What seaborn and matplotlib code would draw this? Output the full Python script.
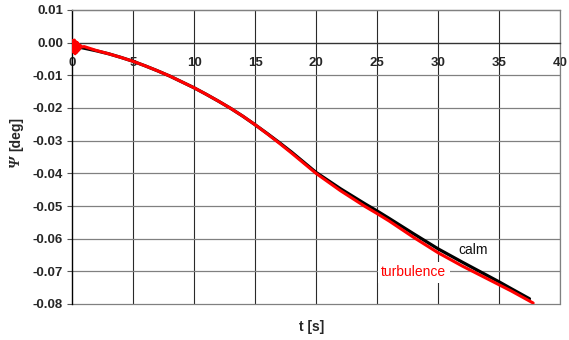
import matplotlib
matplotlib.use("Agg")
import matplotlib.pyplot as plt
import seaborn as sns
import pandas as pd

# Yaw angle response, calm water
t_calm = [0, 1, 2, 3, 4, 5, 6, 7, 8, 9, 10, 11, 12, 13, 14, 15, 16, 17, 18,
          19, 20, 22, 24, 25, 26, 28, 30, 32, 34, 35, 36, 37.5]
psi_calm = [-0.0010, -0.0017, -0.0025, -0.0034, -0.0045, -0.0057, -0.0071,
            -0.0086, -0.0102, -0.0120, -0.0138, -0.0158, -0.0179, -0.0201,
            -0.0225, -0.0251, -0.0278, -0.0306, -0.0335, -0.0366, -0.0397,
            -0.0447, -0.0493, -0.0515, -0.0538, -0.0585, -0.0631, -0.0672,
            -0.0712, -0.0732, -0.0753, -0.0784]

# Yaw angle response in turbulence
t_turb = [0, 0.08, 0.14, 0.2, 0.26, 0.32, 0.38, 0.44, 0.5, 0.56, 0.62, 0.7,
          0.8, 1, 2, 3, 4, 5, 6, 7, 8, 9, 10, 11, 12, 13, 14, 15, 16, 17, 18,
          19, 20, 22, 24, 25, 26, 28, 30, 32, 34, 35, 36, 37.8]
psi_turb = [-0.0004, 0.0007, -0.0030, 0.0008, -0.0034, 0.0003, -0.0030,
            0.0000, -0.0025, -0.0005, -0.0020, -0.0009, -0.0013, -0.0012,
            -0.0024, -0.0034, -0.0045, -0.0057, -0.0071, -0.0086, -0.0102,
            -0.0120, -0.0138, -0.0158, -0.0179, -0.0201, -0.0225, -0.0251,
            -0.0279, -0.0308, -0.0338, -0.0369, -0.0400, -0.0453, -0.0501,
            -0.0523, -0.0546, -0.0596, -0.0643, -0.0684, -0.0722, -0.0741,
            -0.0760, -0.0797]

x_ticks = [0, 5, 10, 15, 20, 25, 30, 35, 40]
x_tick_labels = ["0", "5", "10", "15", "20", "25", "30", "35", "40"]
y_ticks = [0.01, 0.00, -0.01, -0.02, -0.03, -0.04, -0.05, -0.06, -0.07, -0.08]
y_tick_labels = ["0.01", "0.00", "-0.01", "-0.02", "-0.03", "-0.04", "-0.05",
                 "-0.06", "-0.07", "-0.08"]

sns.set_style("white")
plt.rcParams["font.family"] = ["Liberation Sans", "DejaVu Sans"]

calm = pd.DataFrame({"t": t_calm, "psi": psi_calm})
turb = pd.DataFrame({"t": t_turb, "psi": psi_turb})

fig = plt.figure(figsize=(5.69, 3.40), dpi=100)
ax = fig.add_axes([72 / 569, 1 - 304 / 340, 488 / 569, 294 / 340])

ax.set_xlim(0, 40)
ax.set_ylim(-0.08, 0.01)

# grid: dark verticals, grey horizontals
for xv in x_ticks[1:]:
    ax.axvline(xv, color="#2a2a2a", lw=0.8, zorder=1)
for yv in y_ticks:
    if yv != 0.0:
        ax.axhline(yv, color="#808080", lw=0.9, zorder=1, clip_on=False)

sns.lineplot(data=calm, x="t", y="psi", color="black", lw=2.3, ax=ax,
             zorder=3, estimator=None)
sns.lineplot(data=turb, x="t", y="psi", color="#ff0000", lw=2.2, ax=ax,
             zorder=4, estimator=None)

# axes: y axis on the left, x axis through zero
ax.spines["bottom"].set_position(("data", 0))
ax.spines["bottom"].set_color("#333333")
ax.spines["bottom"].set_linewidth(1.0)
ax.spines["left"].set_color("black")
ax.spines["left"].set_linewidth(1.0)
for side in ("top", "right"):
    ax.spines[side].set_color("#808080")
    ax.spines[side].set_linewidth(0.9)

ax.set_xticks(x_ticks)
ax.set_xticklabels(x_tick_labels, fontsize=9.5, fontweight="bold")
ax.set_yticks(y_ticks)
ax.set_yticklabels(y_tick_labels, fontsize=9.5, fontweight="bold")
ax.tick_params(axis="x", length=0, pad=10)
ax.tick_params(axis="y", direction="out", length=3.5, width=0.8,
               color="#555555", pad=3, left=True)

ax.set_xlabel("")
ax.set_ylabel("")
fig.text(312 / 569, 1 - 327 / 340, "t [s]", fontsize=10, fontweight="bold",
         ha="center", va="center")
# y-axis title: italic Psi followed by the unit, rotated
fig.text(16 / 569, 1 - 162 / 340, "Ψ", fontsize=11, fontweight="bold",
         fontstyle="italic", family=["Liberation Serif", "DejaVu Serif"],
         rotation=90, ha="center", va="center")
fig.text(16 / 569, 1 - 134 / 340, "[deg]", fontsize=10, fontweight="bold",
         rotation=90, ha="center", va="center")

ax.text(32.9, -0.0634, "calm", fontsize=10, color="#111111",
        ha="center", va="center", zorder=5)
ax.text(28.0, -0.0703, "turbulence", fontsize=10, color="#ff0000",
        ha="center", va="center", zorder=5,
        bbox=dict(facecolor="white", edgecolor="none", pad=2.5))

fig.savefig("out.png", dpi=100, facecolor="white")
